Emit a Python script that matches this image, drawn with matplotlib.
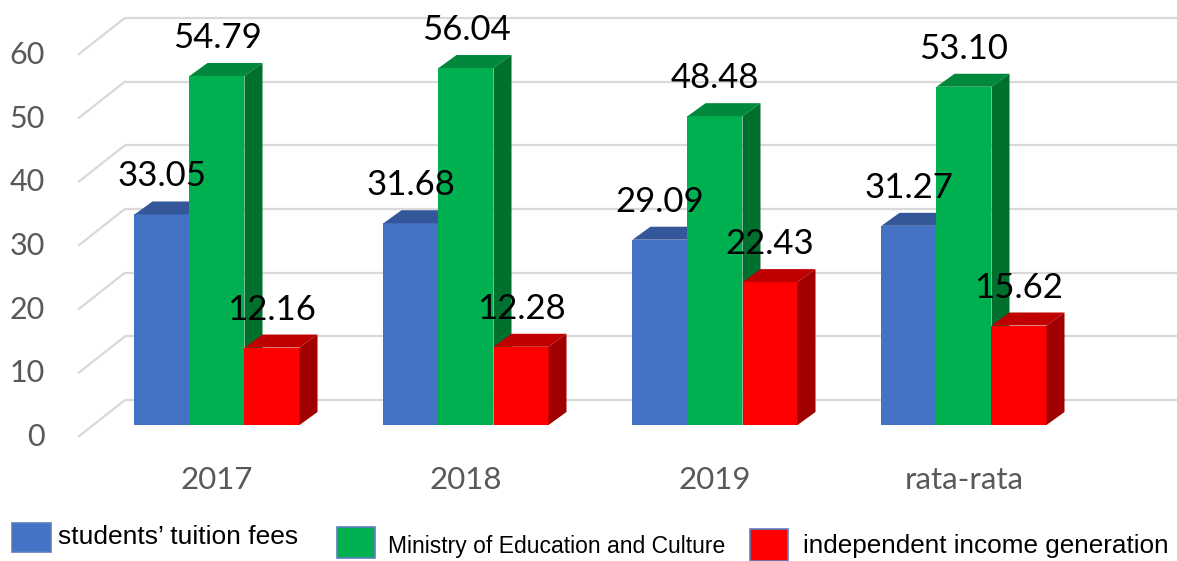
import matplotlib
matplotlib.use("Agg")
import matplotlib.pyplot as plt
from matplotlib.patches import Polygon, Rectangle

categories = ["2017", "2018", "2019", "rata-rata"]
tuition = [33.05, 31.68, 29.09, 31.27]
ministry = [54.79, 56.04, 48.48, 53.10]
independent = [12.16, 12.28, 22.43, 15.62]
series_names = ["students\u2019 tuition fees", "Ministry of Education and Culture",
                "independent income generation"]
yticks = [0, 10, 20, 30, 40, 50, 60]

front_cols = ["#4472C4", "#00B050", "#FF0000"]
top_cols = ["#34579A", "#00893C", "#C00000"]
side_cols = ["#2E4D88", "#00702F", "#A00000"]

W, H = 1177, 561
fig = plt.figure(figsize=(W / 100, H / 100), dpi=100)
ax = fig.add_axes([0, 0, 1, 1])
PXX = 249.0   # px per category
PXY = 6.37    # px per unit
X0 = 217.0
Y0 = 425.0
ax.set_xlim((0 - X0) / PXX, (W - X0) / PXX)
ax.set_ylim(-(H - Y0) / PXY, Y0 / PXY)
ax.axis("off")

bw = 55.0 / PXX
ddx = 18.0 / PXX
ddy = 13.0 / PXY
wall_back = 25.0 / PXY
wall_front = -12.0 / PXY
wall_x_back = (125 - X0) / PXX
wall_x_front = (78 - X0) / PXX
x_right = (W - X0) / PXX

grid_c = "#D9D9D9"
for t in yticks:
    ax.plot([wall_x_front, wall_x_back], [t + wall_front, t + wall_back],
            color=grid_c, lw=1.6, zorder=1, solid_capstyle="butt")
    ax.plot([wall_x_back, x_right], [t + wall_back, t + wall_back],
            color=grid_c, lw=1.6, zorder=1, solid_capstyle="butt")
    ax.text((45 - X0) / PXX, t + wall_front, str(t), ha="right", va="center",
            fontsize=22, color="#595959", family="Lato")

all_series = [tuition, ministry, independent]
for i, cat in enumerate(categories):
    for s, vals in enumerate(all_series):
        v = vals[i]
        x0 = i + (s - 1.5) * bw
        z = 3 + s * 0.1
        ax.bar(x0, v, width=bw, align="edge", color=front_cols[s], zorder=z,
               linewidth=0)
        ax.add_patch(Polygon([(x0, v), (x0 + bw, v), (x0 + bw + ddx, v + ddy),
                              (x0 + ddx, v + ddy)], closed=True,
                             facecolor=top_cols[s], edgecolor="none", zorder=z))
        ax.add_patch(Polygon([(x0 + bw, 0), (x0 + bw, v), (x0 + bw + ddx, v + ddy),
                              (x0 + bw + ddx, ddy)], closed=True,
                             facecolor=side_cols[s], edgecolor="none", zorder=z))
        ax.text(x0 + bw / 2, v + ddy + 15.0 / PXY, f"{v:.2f}", ha="center",
                va="baseline", fontsize=25, color="black", family="Lato",
                zorder=10)
    ax.text(i, -(480 - Y0) / PXY, cat, ha="center", va="center", fontsize=22.5,
            color="#595959", family="Lato")

# legend (x, y_top, w, h, text x, baseline y, fontsize) in pixels
leg = [
    (12, 523, 39, 29, 58, 544, 19),
    (337, 527, 38, 31, 388, 553, 16.5),
    (750, 529, 38, 32, 803, 553, 18.8),
]
for s, (lx, ly, lw_, lh, tx, ty, fs) in enumerate(leg):
    fig.add_artist(Rectangle((lx / W, 1 - (ly + lh) / H), lw_ / W, lh / H,
                             transform=fig.transFigure, facecolor=front_cols[s],
                             edgecolor="#5B7FC0", lw=1.2))
    fig.text(tx / W, 1 - ty / H, series_names[s], ha="left", va="baseline",
             fontsize=fs, family="Liberation Sans", color="black")

fig.savefig("out.png", dpi=100)
